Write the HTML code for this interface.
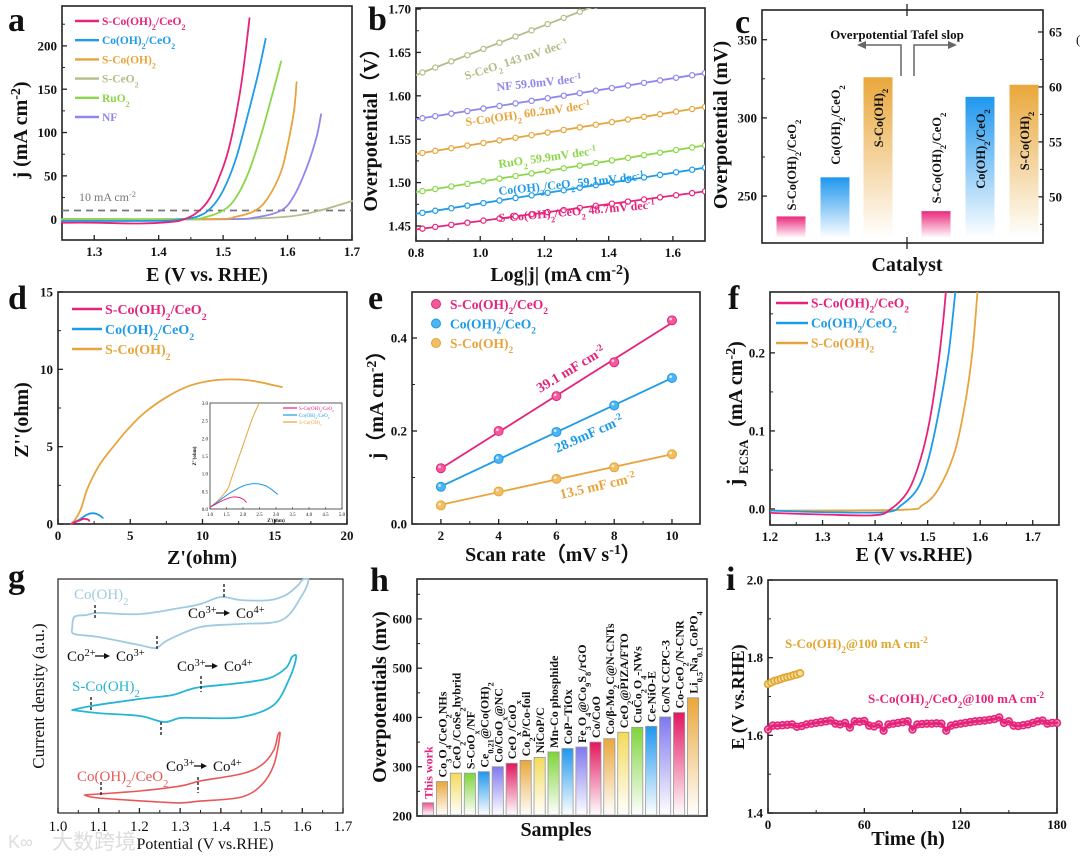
<!DOCTYPE html>
<html><head><meta charset="utf-8"><title>Electrocatalyst figure</title>
<style>
html,body{margin:0;padding:0;background:#fff;}
svg{display:block;}
</style></head>
<body>
<svg id="fig" width="1080" height="856" viewBox="0 0 1080 856" xmlns="http://www.w3.org/2000/svg">
<rect x="0" y="0" width="1080" height="856" fill="#fff"/>
<defs>
<linearGradient id="gPink" x1="0" y1="0" x2="0" y2="1"><stop offset="0" stop-color="#ea2a7c"/><stop offset="1" stop-color="#fff"/></linearGradient>
<linearGradient id="gBlue" x1="0" y1="0" x2="0" y2="1"><stop offset="0" stop-color="#1f97ee"/><stop offset="1" stop-color="#fff"/></linearGradient>
<linearGradient id="gOrange" x1="0" y1="0" x2="0" y2="1"><stop offset="0" stop-color="#e9a73b"/><stop offset="1" stop-color="#fff"/></linearGradient>
<linearGradient id="gYellow" x1="0" y1="0" x2="0" y2="1"><stop offset="0" stop-color="#f3db5a"/><stop offset="1" stop-color="#fff"/></linearGradient>
<linearGradient id="gGreen" x1="0" y1="0" x2="0" y2="1"><stop offset="0" stop-color="#7fd43a"/><stop offset="1" stop-color="#fff"/></linearGradient>
<linearGradient id="gPurple" x1="0" y1="0" x2="0" y2="1"><stop offset="0" stop-color="#7f78ef"/><stop offset="1" stop-color="#fff"/></linearGradient>
<linearGradient id="gRed" x1="0" y1="0" x2="0" y2="1"><stop offset="0" stop-color="#e2175f"/><stop offset="1" stop-color="#fff"/></linearGradient>
<linearGradient id="gLPink" x1="0" y1="0" x2="0" y2="1"><stop offset="0" stop-color="#ee4f8f"/><stop offset="1" stop-color="#fff"/></linearGradient>
<clipPath id="clipB"><rect x="416" y="8" width="289" height="233"/></clipPath>
<clipPath id="clipF"><rect x="770" y="292" width="289" height="233"/></clipPath>
<clipPath id="clipIn"><rect x="210" y="403" width="132" height="106"/></clipPath>
</defs>
</svg>
<script>
// ---------- DATA ----------
// panel a (LSV)
const aE_pink=[1.25,1.30,1.37,1.42,1.44,1.46,1.48,1.50,1.51,1.52,1.53,1.541];
const aJ_pink=[-4,-4,-5,-3,0,8,25,60,85,120,165,232];
const aE_blue=[1.25,1.40,1.435,1.46,1.48,1.50,1.52,1.54,1.555,1.566];
const aJ_blue=[-2,-2,0,3,12,33,70,125,170,208];
const aE_green=[1.25,1.44,1.47,1.50,1.52,1.54,1.56,1.575,1.59];
const aJ_green=[0,0,2,10,25,55,100,140,182];
const aE_orange=[1.25,1.48,1.52,1.55,1.57,1.59,1.60,1.61,1.614];
const aJ_orange=[0,0,3,10,25,55,85,125,158];
const aE_purple=[1.25,1.50,1.55,1.59,1.61,1.63,1.645,1.652];
const aJ_purple=[0,0,2,10,27,60,95,121];
const aE_sage=[1.25,1.50,1.60,1.65,1.70];
const aJ_sage=[0,0,3,10,21];
const aXTicks=[1.3,1.4,1.5,1.6,1.7];
const aYTicks=[0,50,100,150,200];
// panel b (Tafel): intercept at log j = 0.8 and slope (V/dec)
const bNames=['S-CeO2','NF','S-Co(OH)2','RuO2','Co(OH)2/CeO2','S-Co(OH)2/CeO2'];
const bIntercepts=[1.624,1.573,1.533,1.489,1.464,1.446];
const bSlopes=[0.143,0.059,0.0602,0.0599,0.0591,0.0487];
const bMarkerX=[0.82,0.86,0.91,0.96,1.01,1.06,1.11,1.16,1.21,1.26,1.31,1.36,1.41,1.46,1.51,1.56,1.61,1.66,1.70];
const bXTicks=[0.8,1.0,1.2,1.4,1.6];
const bYTicks=[1.45,1.50,1.55,1.60,1.65,1.70];
// panel c
const cOverpot=[237,262,326];
const cTafel=[48.7,59.1,60.2];
const cLeftTicks=[250,300,350];
const cRightTicks=[50,55,60,65];
// panel d (Nyquist)
const dX_orange=[0.9,1.2,1.6,2.0,2.5,3.0,4.0,5.0,6.0,7.5,9.0,10.5,12.0,13.5,15.5];
const dY_orange=[0,0.3,1.0,2.2,3.2,4.0,5.2,6.3,7.2,8.2,8.9,9.25,9.35,9.25,8.85];
const dX_blue=[0.9,1.5,2.0,2.4,2.8,3.1];
const dY_blue=[0,0.3,0.6,0.7,0.6,0.4];
const dX_pink=[0.9,1.4,1.8,2.1,2.15];
const dY_pink=[0,0.2,0.33,0.28,0.2];
const dXTicks=[0,5,10,15,20];
const dYTicks=[0,5,10,15];
// panel e (Cdl)
const eScan=[2,4,6,8,10];
const eJ_pink=[0.12,0.20,0.275,0.348,0.438];
const eJ_blue=[0.08,0.14,0.198,0.255,0.314];
const eJ_orange=[0.04,0.07,0.097,0.122,0.15];
const eYTicks=[0.0,0.2,0.4];
// panel f (ECSA-normalised)
const fE_pink=[1.2,1.3,1.4,1.43,1.46,1.48,1.5,1.515,1.528,1.535];
const fJ_pink=[-0.005,-0.007,-0.008,0,0.02,0.05,0.1,0.16,0.23,0.28];
const fE_blue=[1.2,1.3,1.42,1.45,1.48,1.5,1.52,1.54,1.553];
const fJ_blue=[-0.002,-0.004,-0.004,0.005,0.025,0.06,0.12,0.2,0.28];
const fE_orange=[1.2,1.45,1.49,1.52,1.55,1.57,1.585,1.595];
const fJ_orange=[-0.002,-0.001,0.005,0.025,0.07,0.13,0.2,0.28];
const fXTicks=[1.2,1.3,1.4,1.5,1.6,1.7];
const fYTicks=[0.0,0.1,0.2];
// panel g (CV, arbitrary units 0-100)
const gV_co=[1.035,1.04,1.07,1.1,1.2,1.3,1.35,1.4,1.45,1.52,1.56,1.59,1.6,1.615,1.6,1.55,1.45,1.35,1.27,1.24,1.2,1.1,1.04,1.035];
const gI_co=[79,83.8,84.6,85.5,85,87.6,89.3,92.3,91,91,93.2,97.4,99.6,99.6,93.2,82.5,80.8,79.5,73.9,70.5,71.8,75.2,76.5,79];
const gV_sco=[1.035,1.08,1.2,1.28,1.32,1.35,1.45,1.52,1.56,1.575,1.585,1.57,1.53,1.45,1.35,1.3,1.26,1.2,1.1,1.035];
const gI_sco=[44,45.7,48.7,50.4,52.6,53.8,55.6,57.7,62,66.7,66.7,58.1,46.2,41,40.6,40.6,38.9,41.5,42.7,44];
const gV_ce=[1.065,1.1,1.2,1.3,1.35,1.45,1.5,1.53,1.54,1.545,1.53,1.5,1.45,1.35,1.3,1.25,1.1,1.065];
const gI_ce=[7.7,8.1,9.4,11.5,13.7,16.7,20.5,26.9,33.3,33.3,20.5,12,6.8,5.1,4.3,4.7,6.4,7.7];
const gXTicks=[1.0,1.1,1.2,1.3,1.4,1.5,1.6,1.7];
// panel h
const hSamples=['This work','Co_{3}O_{4}/CeO_{2}NHs','CeO_{2}/CoSe_{2}hybrid','S-CoO_{x}/NF','Ce_{0.21}@Co(OH)_{2}','Co/CoO_{x}@NC','CeO_{x}/CoO_{x}','Co_{2}P/Co-foil','NiCoP/C','Mn-Co phosphide','CoP−TiOx','Fe_{3}O_{4}@Co_{9}S_{8}/rGO','Co/CoO','Co/β-Mo_{2}C@N-CNTs','CeO_{2}@PIZA/FTO','CuCo_{2}O_{4}-NWs','Ce-NiO-E','Co/N CCPC-3','Co-CeO_{2}/N-CNR','Li_{0.5}Na_{0.1}CoPO_{4}'];
const hValues=[227,270,287,287,290,300,307,313,319,330,337,340,350,357,370,380,382,401,410,440];
const hYTicks=[200,300,400,500,600];
// panel i (stability)
const iT_pink=[0,3,6,9,12,15,18,21,24,27,30,33,36,39,42,45,48,51,54,57,60,63,66,69,72,75,78,81,84,87,90,93,96,99,102,105,108,111,114,117,120,123,126,129,132,135,138,141,144,147,150,153,156,159,162,165,168,171,174,177,180];
const iE_pink=[1.615,1.625,1.625,1.626,1.627,1.628,1.622,1.624,1.628,1.63,1.632,1.634,1.636,1.638,1.63,1.628,1.632,1.62,1.636,1.635,1.637,1.625,1.623,1.628,1.612,1.628,1.63,1.632,1.634,1.636,1.615,1.628,1.629,1.63,1.63,1.631,1.63,1.612,1.625,1.628,1.63,1.632,1.634,1.636,1.637,1.638,1.64,1.642,1.646,1.632,1.636,1.625,1.624,1.626,1.628,1.632,1.636,1.638,1.63,1.632,1.632];
const iT_orange=[0,2,4,6,8,10,12,14,16,18,20];
const iE_orange=[1.732,1.736,1.74,1.742,1.745,1.748,1.75,1.752,1.755,1.757,1.76];
const iXTicks=[0,60,120,180];
const iYTicks=[1.4,1.6,1.8,2.0];

// ---------- HELPERS ----------
const NS='http://www.w3.org/2000/svg';
const svg=document.getElementById('fig');
const SERIF='Liberation Serif, DejaVu Serif, serif';
const C={pink:'#e6237a',blue:'#1e9be8',orange:'#e8a43c',sage:'#b3bd88',green:'#8cd749',purple:'#8f86f0'};
function mk(tag,attrs,parent){const e=document.createElementNS(NS,tag);for(const k in attrs)e.setAttribute(k,attrs[k]);(parent||svg).appendChild(e);return e;}
function fmt(s){return s.replace(/_\{([^}]*)\}/g,'<tspan baseline-shift="sub" font-size="70%">$1</tspan>').replace(/\^\{([^}]*)\}/g,'<tspan baseline-shift="super" font-size="70%">$1</tspan>');}
function txt(str,x,y,opts,parent){const e=mk('text',Object.assign({x:x,y:y,'font-family':SERIF,'font-weight':'bold','font-size':13,fill:'#111'},opts||{}),parent);e.innerHTML=fmt(str);return e;}
function panel(name,L,R,T,B,xmin,xmax,ymin,ymax){
  const g=mk('g',{});
  
  
  return {g:g,L:L,R:R,T:T,B:B,X:v=>L+(v-xmin)/(xmax-xmin)*(R-L),Y:v=>B-(v-ymin)/(ymax-ymin)*(B-T)};
}
function frame(p,w){const r=mk('rect',{x:p.L,y:p.T,width:p.R-p.L,height:p.B-p.T,fill:'none',stroke:'#222','stroke-width':w||1.6},p.g);
  
  }
function xTicks(p,vals,fs,dec,weight,minor){
  const g=mk('g',{},p.g);
  
  
  vals.forEach(v=>{const x=p.X(v);mk('line',{x1:x,x2:x,y1:p.B,y2:p.B-5,stroke:'#222','stroke-width':1.3},g);
    txt(dec==null?String(v):v.toFixed(dec),x,p.B+fs+3,{'text-anchor':'middle','font-size':fs,'font-weight':weight||'bold'},g);});
  (minor||[]).forEach(v=>{const x=p.X(v);mk('line',{x1:x,x2:x,y1:p.B,y2:p.B-3,stroke:'#222','stroke-width':1},g);});
}
function yTicks(p,vals,fs,dec,minor,right,axisY){
  const g=mk('g',{},p.g);
  
  
  const Y=axisY||p.Y;
  vals.forEach(v=>{const y=Y(v);const x0=right?p.R:p.L;const dx=right?-5:5;
    mk('line',{x1:x0,x2:x0+dx,y1:y,y2:y,stroke:'#222','stroke-width':1.3},g);
    txt(dec==null?String(v):v.toFixed(dec),right?x0+6:x0-5,y+fs*0.35,{'text-anchor':right?'start':'end','font-size':fs},g);});
  (minor||[]).forEach(v=>{const y=Y(v);const x0=right?p.R:p.L;const dx=right?-3:3;mk('line',{x1:x0,x2:x0+dx,y1:y,y2:y,stroke:'#222','stroke-width':1},g);});
}
function pathD(p,xs,ys,smooth){
  const P=xs.map((x,i)=>[p.X(x),p.Y(ys[i])]);
  if(!smooth||P.length<3)return P.map((q,i)=>(i?'L':'M')+q[0].toFixed(1)+','+q[1].toFixed(1)).join(' ');
  let d='M'+P[0][0].toFixed(1)+','+P[0][1].toFixed(1);
  for(let i=0;i<P.length-1;i++){
    const p0=P[i-1]||P[i],p1=P[i],p2=P[i+1],p3=P[i+2]||P[i+1];
    const c1=[p1[0]+(p2[0]-p0[0])/6,p1[1]+(p2[1]-p0[1])/6];
    const c2=[p2[0]-(p3[0]-p1[0])/6,p2[1]-(p3[1]-p1[1])/6];
    d+=' C'+c1[0].toFixed(1)+','+c1[1].toFixed(1)+' '+c2[0].toFixed(1)+','+c2[1].toFixed(1)+' '+p2[0].toFixed(1)+','+p2[1].toFixed(1);
  }
  return d;
}
function series(p,xs,ys,color,w,name,clip,smooth){
  const e=mk('path',{d:pathD(p,xs,ys,smooth),fill:'none',stroke:color,'stroke-width':w||1.8,'stroke-linejoin':'round','stroke-linecap':'round'},p.g);
  if(clip)e.setAttribute('clip-path','url(#'+clip+')');
  
  
  return e;
}
function letter(ch,x,y){const e=txt(ch,x,y,{'font-size':34});
  
  }
function legendLine(p,items,x,y0,dy,fs,len){
  const g=mk('g',{},p.g);
  
  
  items.forEach((it,i)=>{const y=y0+i*dy;
    mk('line',{x1:x,x2:x+len,y1:y,y2:y,stroke:it[1],'stroke-width':2.4},g);
    const t=txt(it[0],x+len+3,y+fs*0.35,{'font-size':fs,fill:it[1]},g);
    
    });
}
function title(str,x,y,fs,rot,opts){const o=Object.assign({'text-anchor':'middle','font-size':fs},opts||{});
  if(rot)o.transform='rotate(-90 '+x+' '+y+')';
  const e=txt(str,x,y,o);return e;}

// ---------- PANEL A ----------
(function(){
  const p=panel('panel-a-lsv',62,352,6,240,1.25,1.7,-24,246);
  frame(p);
  xTicks(p,aXTicks,13,1,'bold',[1.35,1.45,1.55,1.65]);
  yTicks(p,aYTicks,13,null,[25,75,125,175,225]);
  const d=mk('line',{x1:p.L,x2:p.R,y1:p.Y(10),y2:p.Y(10),stroke:'#777','stroke-width':1.8,'stroke-dasharray':'7,5'},p.g);
  
  
  txt('10 mA cm^{-2}',79,201,{'font-weight':'normal','font-size':12,fill:'#777'},p.g);
  series(p,aE_sage,aJ_sage,C.sage,1.8,'s-ceo2-curve',null,true);
  series(p,aE_purple,aJ_purple,C.purple,1.8,'nf-curve',null,true);
  series(p,aE_orange,aJ_orange,C.orange,1.8,'s-cooh2-curve',null,true);
  series(p,aE_green,aJ_green,C.green,1.8,'ruo2-curve',null,true);
  series(p,aE_blue,aJ_blue,C.blue,1.8,'co-oh2-ceo2-curve',null,true);
  series(p,aE_pink,aJ_pink,C.pink,1.8,'s-co-oh2-ceo2-curve',null,true);
  legendLine(p,[['S-Co(OH)_{2}/CeO_{2}',C.pink],['Co(OH)_{2}/CeO_{2}',C.blue],['S-Co(OH)_{2}',C.orange],['S-CeO_{2}',C.sage],['RuO_{2}',C.green],['NF',C.purple]],75,21,19.2,11.5,24);
  title('j (mA cm^{-2})',27,130,20,true);
  title('E (V vs. RHE)',207,281,20,false);
  letter('a',8,31);
})();

// ---------- PANEL B ----------
(function(){
  const p=panel('panel-b-tafel',416,705,8,241,0.8,1.7,1.4327,1.7012);
  frame(p);
  xTicks(p,bXTicks,13,1,'bold',[0.9,1.1,1.3,1.5,1.7]);
  yTicks(p,bYTicks,13,2,[1.475,1.525,1.575,1.625,1.675]);
  const cols=[C.sage,C.purple,C.orange,C.green,C.blue,C.pink];
  bNames.forEach((n,k)=>{
    const ys=bMarkerX.map(x=>bIntercepts[k]+bSlopes[k]*(x-0.8));
    series(p,[0.8,1.7],[bIntercepts[k],bIntercepts[k]+bSlopes[k]*0.9],cols[k],1.8,'tafel-fit-'+k,'clipB');
    const g=mk('g',{'clip-path':'url(#clipB)'},p.g);
    
    
    bMarkerX.forEach((x,i)=>{mk('circle',{cx:p.X(x),cy:p.Y(ys[i]),r:2.6,fill:'#fff',stroke:cols[k],'stroke-width':1.2},g);});
  });
  const lbl=[['S-CeO_{2} 143 mV dec^{-1}',C.sage,466,80,-18],['NF  59.0mV dec^{-1}',C.purple,497,91,-6],['S-Co(OH)_{2}  60.2mV dec^{-1}',C.orange,466,126,-8],['RuO_{2}  59.9mV dec^{-1}',C.green,499,168,-8],['Co(OH)_{2}/CeO_{2}  59.1mV dec^{-1}',C.blue,499,195,-6],['S-Co(OH)_{2}/CeO_{2}  48.7mV dec^{-1}',C.pink,499,222,-5]];
  lbl.forEach(l=>{const t=txt(l[0],l[2],l[3],{'font-size':12,fill:l[1],transform:'rotate('+l[4]+' '+l[2]+' '+l[3]+')'},p.g);
    
    });
  title('Overpotential（V）',377,125,20,true);
  title('Log|j| (mA cm^{-2})',560,281,20,false);
  letter('b',368,30);
})();

// ---------- PANEL C ----------
(function(){
  const p=panel('panel-c-comparison',762,1043,10,243,0,1,220,369);
  frame(p);
  const YR=v=>243-(v-45.8)/(67-45.8)*233;
  yTicks(p,cLeftTicks,13,null,[275,325]);
  yTicks(p,cRightTicks,13,null,[47.5,52.5,57.5,62.5],true,YR);
  [10,243].forEach((y,i)=>{mk('line',{x1:907,x2:907,y1:y-6,y2:y+6,stroke:'#222','stroke-width':1.3},p.g);});
  const grads=['gPink','gBlue','gOrange'];
  const lx=[791,835,878], rx=[936,980,1024];
  const names=['S-Co(OH)_{2}/CeO_{2}','Co(OH)_{2}/CeO_{2}','S-Co(OH)_{2}'];
  cOverpot.forEach((v,i)=>{const y=p.Y(v);const r=mk('rect',{x:lx[i]-14.5,y:y,width:29,height:238-y,fill:'url(#'+grads[i]+')'},p.g);
    
    });
  cTafel.forEach((v,i)=>{const y=YR(v);const r=mk('rect',{x:rx[i]-14.5,y:y,width:29,height:238-y,fill:'url(#'+grads[i]+')'},p.g);
    
    });
  const lc=[[791,165],[835,125],[878,118],[936,158],[980,149],[1024,141]];
  lc.forEach((c,i)=>{const t=txt(names[i%3],c[0]+5,c[1],{'text-anchor':'middle','font-size':12.5,transform:'rotate(-90 '+(c[0]+5)+' '+c[1]+')'},p.g);
    
    });
  const t=txt('Overpotential Tafel slop',897,39,{'text-anchor':'middle','font-size':13},p.g);
  
  
  mk('path',{d:'M901,76 V45 H864',fill:'none',stroke:'#666','stroke-width':1.5},p.g);
  mk('path',{d:'M857,45 L866,41 L866,49 Z',fill:'#666'},p.g);
  mk('path',{d:'M914,76 V45 H950',fill:'none',stroke:'#666','stroke-width':1.5},p.g);
  mk('path',{d:'M957,45 L948,41 L948,49 Z',fill:'#666'},p.g);
  title('Overpotential (mV)',727,125,20,true);
  title('Catalyst',907,271,20,false);
  letter('c',735,33);
  txt('(',1076,44,{'font-size':13,'font-weight':'normal'});
})();

// ---------- PANEL D ----------
(function(){
  const p=panel('panel-d-nyquist',58,347,292,524,0,20,0,15);
  frame(p);
  xTicks(p,dXTicks,13,null,'bold',[2.5,7.5,12.5,17.5]);
  yTicks(p,dYTicks,13,null,[2.5,7.5,12.5]);
  series(p,dX_orange,dY_orange,C.orange,1.8,'s-cooh2-nyquist',null,true);
  series(p,dX_blue,dY_blue,C.blue,1.8,'co-oh2-ceo2-nyquist',null,true);
  series(p,dX_pink,dY_pink,C.pink,1.8,'s-co-oh2-ceo2-nyquist',null,true);
  legendLine(p,[['S-Co(OH)_{2}/CeO_{2}',C.pink],['Co(OH)_{2}/CeO_{2}',C.blue],['S-Co(OH)_{2}',C.orange]],72,309,20,14,30);
  const q=panel('panel-d-inset',210,342,403,509,1,5,0,3);
  p.g.appendChild(q.g);
  mk('rect',{x:210,y:403,width:132,height:106,fill:'#fff',stroke:'#333','stroke-width':0.8},q.g);
  const ig=mk('g',{},q.g);
  
  
  [1,1.5,2,2.5,3,3.5,4,4.5,5].forEach(v=>{txt(v.toFixed(1),q.X(v),516,{'font-size':5,'text-anchor':'middle','font-weight':'normal'},ig);mk('line',{x1:q.X(v),x2:q.X(v),y1:509,y2:507,stroke:'#333','stroke-width':0.6},ig);});
  [0,0.5,1,1.5,2,2.5,3].forEach(v=>{txt(v.toFixed(1),208,q.Y(v)+2,{'font-size':5,'text-anchor':'end','font-weight':'normal'},ig);});
  series(q,[1.0,1.2,1.4,1.55,1.7,2.0,2.3,2.6],[0.05,0.2,0.4,0.6,1.0,1.8,2.6,3.2],C.orange,1,'inset-orange','clipIn',true);
  series(q,[1.0,1.3,1.6,2.0,2.35,2.7,3.05],[0.05,0.25,0.45,0.65,0.72,0.65,0.42],C.blue,1,'inset-blue','clipIn',true);
  series(q,[1.0,1.3,1.6,1.8,2.0,2.1],[0.05,0.2,0.32,0.34,0.28,0.19],C.pink,1,'inset-pink','clipIn',true);
  [['S-Co(OH)_{2}/CeO_{2}',C.pink],['Co(OH)_{2}/CeO_{2}',C.blue],['S-Co(OH)_{2}',C.orange]].forEach((it,i)=>{
    mk('line',{x1:283,x2:297,y1:408+i*7,y2:408+i*7,stroke:it[1],'stroke-width':1.2},q.g);
    txt(it[0],299,410+i*7,{'font-size':5,fill:it[1],'font-weight':'normal'},q.g);});
  txt("Z''(ohm)",196,456,{'font-size':5,'text-anchor':'middle',transform:'rotate(-90 196 456)'},q.g);
  txt("Z'(ohm)",276,522,{'font-size':5,'text-anchor':'middle'},q.g);
  title("Z''(ohm)",28,420,20,true);
  title("Z'(ohm)",202,564,20,false);
  letter('d',8,309);
})();

// ---------- PANEL E ----------
(function(){
  const p=panel('panel-e-cdl',412,700,292,524,1,10.97,0,0.499);
  frame(p);
  xTicks(p,eScan,13,null,'bold',[3,5,7,9]);
  yTicks(p,eYTicks,13,1,[0.1,0.3]);
  const sets=[[eJ_pink,C.pink,'#f25a9b'],[eJ_blue,C.blue,'#4fb4f2'],[eJ_orange,C.orange,'#f0bf63']];
  sets.forEach((s,k)=>{
    const ys=s[0];const n=eScan.length;
    const mx=eScan.reduce((a,b)=>a+b,0)/n, my=ys.reduce((a,b)=>a+b,0)/n;
    let sxy=0,sxx=0;eScan.forEach((x,i)=>{sxy+=(x-mx)*(ys[i]-my);sxx+=(x-mx)*(x-mx);});
    const m=sxy/sxx,b=my-m*mx;
    series(p,[2,10],[b+m*2,b+m*10],s[1],1.8,'cdl-fit-'+k);
    const g=mk('g',{},p.g);
    
    
    eScan.forEach((x,i)=>{mk('circle',{cx:p.X(x),cy:p.Y(ys[i]),r:4.5,fill:s[2],stroke:s[1],'stroke-width':1},g);
      mk('circle',{cx:p.X(x)-1.3,cy:p.Y(ys[i])-1.3,r:1.4,fill:'#fff',opacity:0.7},g);});
  });
  [['S-Co(OH)_{2}/CeO_{2}',C.pink,'#f25a9b'],['Co(OH)_{2}/CeO_{2}',C.blue,'#4fb4f2'],['S-Co(OH)_{2}',C.orange,'#f0bf63']].forEach((it,i)=>{
    const y=304+i*19.5;
    mk('circle',{cx:436,cy:y,r:4.5,fill:it[2],stroke:it[1]},p.g);
    const t=txt(it[0],450,y+5,{'font-size':13.5,fill:it[1]},p.g);
    
    });
  [['39.1 mF cm^{-2}',C.pink,540,393,-31],['28.9mF cm^{-2}',C.blue,557,453,-24],['13.5 mF cm^{-2}',C.orange,561,499,-13]].forEach(l=>{
    const t=txt(l[0],l[2],l[3],{'font-size':14,fill:l[1],transform:'rotate('+l[4]+' '+l[2]+' '+l[3]+')'},p.g);
    
    });
  title('j（mA cm^{-2}）',383,400,20,true);
  title('Scan rate（mV s^{-1}）',553,561,20,false);
  letter('e',368,309);
})();

// ---------- PANEL F ----------
(function(){
  const p=panel('panel-f-ecsa',770,1059,292,525,1.2,1.75,-0.0205,0.278);
  frame(p);
  xTicks(p,fXTicks,13,1,'bold',[1.25,1.35,1.45,1.55,1.65]);
  yTicks(p,fYTicks,13,1,[0.05,0.15,0.25]);
  series(p,fE_orange,fJ_orange,C.orange,1.8,'s-cooh2-ecsa','clipF',true);
  series(p,fE_blue,fJ_blue,C.blue,1.8,'co-oh2-ceo2-ecsa','clipF',true);
  series(p,fE_pink,fJ_pink,C.pink,1.8,'s-co-oh2-ceo2-ecsa','clipF',true);
  legendLine(p,[['S-Co(OH)_{2}/CeO_{2}',C.pink],['Co(OH)_{2}/CeO_{2}',C.blue],['S-Co(OH)_{2}',C.orange]],776,303,20,13.5,32);
  const t=txt('j',742,486,{'font-size':22,transform:'rotate(-90 742 486)'});
  
  
  txt('ECSA',748,474,{'font-size':13,transform:'rotate(-90 748 474)'});
  txt('(mA cm^{-2})',742,384,{'font-size':20,'text-anchor':'middle',transform:'rotate(-90 742 384)'});
  title('E (V vs.RHE)',914,561,20,false);
  letter('f',728,309);
})();

// ---------- PANEL G ----------
(function(){
  const p=panel('panel-g-cv',58,343,579,813,1.0,1.7,0,100);
  frame(p,1.2);
  xTicks(p,gXTicks,15,1,'normal',[1.05,1.15,1.25,1.35,1.45,1.55,1.65]);
  series(p,gV_co,gI_co,'#9fcbe0',1.8,'co-oh2-cv',null,true);
  series(p,gV_sco,gI_sco,'#27b5d6',1.8,'s-coh2-cv',null,true);
  series(p,gV_ce,gI_ce,'#e85757',1.6,'co-oh2-ceo2-cv',null,true);
  const dash=[[95,605,619],[157,636,650],[224,584,598],[91,697,711],[201,676,692],[161,722,736],[101,782,797],[198,777,793]];
  dash.forEach(d=>{const l=mk('line',{x1:d[0],x2:d[0],y1:d[1],y2:d[2],stroke:'#222','stroke-width':1.4,'stroke-dasharray':'3,2'},p.g);
    
    });
  const N={'font-weight':'normal','font-size':15};
  txt('Co(OH)_{2}',74,599,Object.assign({},N,{fill:'#9fcbe0'}),p.g);
  txt('S-Co(OH)_{2}',72,691,Object.assign({},N,{fill:'#27b5d6'}),p.g);
  txt('Co(OH)_{2}/CeO_{2}',77,781,Object.assign({},N,{fill:'#e85757'}),p.g);
  [['Co^{3+}',188,618,'Co^{4+}',236],['Co^{2+}',67,661,'Co^{3+}',116],['Co^{3+}',177,671,'Co^{4+}',224],['Co^{3+}',166,771,'Co^{4+}',213]].forEach(a=>{
    const t=txt(a[0],a[1],a[2],N,p.g);
    
    
    const x0=a[1]+28,x1=a[4]-6;
    mk('line',{x1:x0,x2:x1-4,y1:a[2]-5,y2:a[2]-5,stroke:'#111','stroke-width':1.3},p.g);
    mk('path',{d:'M'+x1+','+(a[2]-5)+' l-6,-3 v6 z',fill:'#111'},p.g);
    txt(a[3],a[4],a[2],N,p.g);
  });
  title('Current density (a.u.)',44,696,17,true,{'font-weight':'normal'});
  title('Potential (V vs.RHE)',205,849,16,false,{'font-weight':'normal'});
  const w=txt('大数跨境',52,849,{'font-family':'Liberation Sans, Noto Sans CJK SC, sans-serif','font-size':21,fill:'#ddd','font-weight':'normal'});
  
  
  txt('K∞',8,848,{'font-family':'Liberation Sans, sans-serif','font-size':18,fill:'#ddd','font-weight':'normal'});
  letter('g',8,588);
})();

// ---------- PANEL H ----------
(function(){
  const p=panel('panel-h-benchmark',417,707,579,816,-0.79,20.0,200,681);
  frame(p);
  yTicks(p,hYTicks,13,null,[250,350,450,550,650]);
  const grads=['gOrange','gYellow','gGreen','gBlue','gPurple','gRed'];
  hValues.forEach((v,i)=>{
    const cx=p.X(i),y=p.Y(v);
    const fill=i===0?'url(#gLPink)':'url(#'+grads[(i-1)%6]+')';
    const r=mk('rect',{x:cx-5.6,y:y,width:11.2,height:p.B-y-1,fill:fill,stroke:'#999','stroke-width':0.8},p.g);
    
    
    const tx=cx+4.5,ty=y-4;
    const t=txt(hSamples[i],tx,ty,{'font-size':12,fill:i===0?'#e6237a':'#111',transform:'rotate(-90 '+tx+' '+ty+')'},p.g);
    
    
  });
  title('Overpotentials (mv)',386,697,20,true);
  title('Samples',556,836,20,false);
  letter('h',370,591);
})();

// ---------- PANEL I ----------
(function(){
  const p=panel('panel-i-stability',768,1057,580,813,0,180,1.4,2.0);
  frame(p);
  xTicks(p,iXTicks,13,null,'bold',[30,90,150]);
  yTicks(p,iYTicks,13,1,[1.5,1.7,1.9]);
  const gp=mk('g',{},p.g);
  
  
  series(p,iT_pink,iE_pink,'#e6237a',3,'s-co-oh2-ceo2-stability-line');
  iT_pink.forEach((t,i)=>{mk('circle',{cx:p.X(t),cy:p.Y(iE_pink[i]),r:3.4,fill:'#f6a6cb',stroke:'#e6237a','stroke-width':1.6},gp);});
  const go=mk('g',{},p.g);
  
  
  iT_orange.forEach((t,i)=>{mk('circle',{cx:p.X(t),cy:p.Y(iE_orange[i]),r:3.4,fill:'#f6dc9f',stroke:'#e0a62f','stroke-width':1.6},go);});
  txt('S-Co(OH)_{2}@100 mA cm^{-2}',785,648,{'font-size':13,fill:'#e0a62f'},p.g);
  txt('S-Co(OH)_{2}/CeO_{2}@100 mA cm^{-2}',868,703,{'font-size':13,fill:'#e6237a'},p.g);
  title('E (V vs.RHE)',744,697,18,true);
  title('Time (h)',908,845,20,false);
  letter('i',726,590);
})();
</script>
</body></html>
